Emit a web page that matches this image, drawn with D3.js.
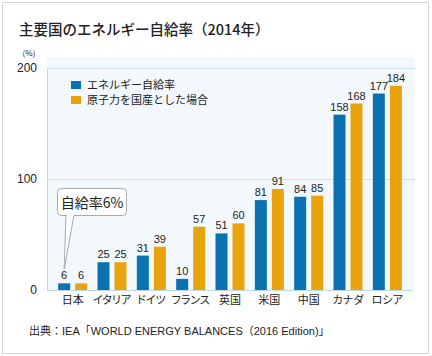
<!DOCTYPE html>
<html><head><meta charset="utf-8">
<script src="https://cdn.jsdelivr.net/npm/d3@7"></script>
<style>
html,body{margin:0;padding:0;background:#fff;}
text{font-family:"Noto Sans CJK JP","Noto Sans",sans-serif;}
.palt{font-feature-settings:"palt";}
</style></head>
<body>
<svg id="c" width="432" height="356"></svg>
<script>
const categories = ["日本","イタリア","ドイツ","フランス","英国","米国","中国","カナダ","ロシア"];
const selfSufficiency = [6,25,31,10,51,81,84,158,177];
const withNuclear = [6,25,39,57,60,91,85,168,184];
const seriesNames = ["エネルギー自給率","原子力を国産とした場合"];
const yTicks = [0,100,200];
const colors = ["#0b72b1","#e9a30c"];

(function(){
const svg = d3.select("#c");
svg.append("rect").attr("x",2.5).attr("y",2.5).attr("width",426).attr("height",351)
  .attr("fill","#fff").attr("stroke","#d6d6d6");

svg.append("text").attr("x",19).attr("y",35).attr("font-size",14.5).attr("font-weight",500)
  .attr("fill","#222").text("主要国のエネルギー自給率（2014年）");

const pL=47, pR=415, pT=57, pB=290;
const y = d3.scaleLinear().domain([0,200]).range([pB,68]);
const x = d3.scaleBand().domain(categories).range([53,407]).paddingInner(0).paddingOuter(0);

svg.append("rect").attr("x",pL).attr("y",pT).attr("width",pR-pL).attr("height",pB-pT)
  .attr("fill","#f3f8fc");

svg.append("g").selectAll("line").data(yTicks.filter(d=>d>0)).join("line")
  .attr("x1",pL).attr("x2",pR).attr("y1",d=>y(d)+0.5).attr("y2",d=>y(d)+0.5)
  .attr("stroke","#cfe3ee");

const yAxis = svg.append("g").attr("transform",`translate(${pL},0)`)
  .call(d3.axisLeft(y).tickValues(yTicks).tickSize(0).tickPadding(10));
yAxis.select(".domain").attr("stroke","#bcd9ea");
yAxis.selectAll("text").attr("font-size",12).attr("fill","#222")
  .style("font-family","'Liberation Sans','Noto Sans',sans-serif");
svg.append("text").attr("x",29).attr("y",56).attr("font-size",8).attr("text-anchor","middle")
  .attr("fill","#222").text("(%)");

const bw=12, gap=5;
const data = categories.map((c,i)=>({c, v:[selfSufficiency[i],withNuclear[i]]}));
const g = svg.append("g");
data.forEach(d=>{
  const cx = x(d.c)+x.bandwidth()/2;
  d.v.forEach((v,k)=>{
    const bx = k===0 ? cx-gap/2-bw : cx+gap/2;
    g.append("rect").attr("x",bx).attr("y",y(v)).attr("width",bw).attr("height",y(0)-y(v))
      .attr("fill",colors[k]);
    g.append("text").attr("x",bx+bw/2).attr("y",y(v)-4).attr("text-anchor","middle")
      .attr("font-size",11).attr("fill","#222")
      .style("font-family","'Liberation Sans','Noto Sans',sans-serif").text(v);
  });
});

const xAxis = svg.append("g").attr("transform",`translate(0,${pB})`)
  .call(d3.axisBottom(x).tickSize(0).tickPadding(6));
xAxis.select(".domain").attr("stroke","#bcd9ea").attr("d",`M${pL},0.5H${pR-2}`);
xAxis.selectAll("text").attr("font-size",11).attr("fill","#222").attr("class","palt");

const lg = svg.append("g");
seriesNames.forEach((n,i)=>{
  lg.append("rect").attr("x",71).attr("y",81+i*15).attr("width",10).attr("height",8).attr("fill",colors[i]);
  lg.append("text").attr("x",87).attr("y",89+i*15).attr("font-size",11).attr("fill","#222").text(n);
});

const jx = x("日本")+x.bandwidth()/2 - gap/2 - bw/2;
svg.append("path")
  .attr("d",`M66,215 L${jx},${y(6)-14} L74,215`)
  .attr("fill","#fff").attr("stroke","#aaa");
svg.append("rect").attr("x",57.5).attr("y",188.5).attr("width",69).attr("height",27).attr("rx",4)
  .attr("fill","#fff").attr("stroke","#aaa");
svg.append("path").attr("d","M67,215.5 H73.5").attr("stroke","#fff").attr("stroke-width",1.5);
svg.append("text").attr("x",92).attr("y",208).attr("text-anchor","middle").attr("font-size",14)
  .attr("fill","#222").text("自給率6%");

svg.append("text").attr("x",29).attr("y",335).attr("font-size",11).attr("fill","#222")
  .style("font-family","'Liberation Sans','Noto Sans CJK JP',sans-serif")
  .text("出典：IEA「WORLD ENERGY BALANCES（2016 Edition)」");
})();
</script>
</body></html>
